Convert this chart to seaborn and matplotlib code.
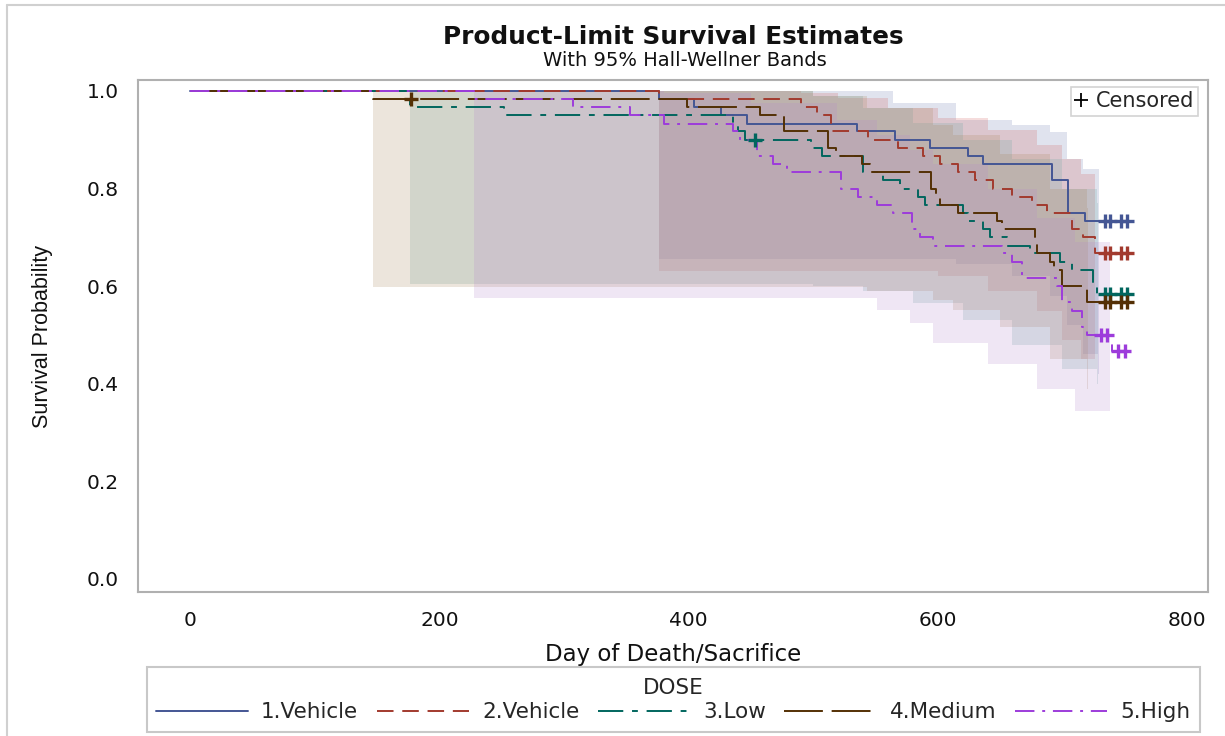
import matplotlib
matplotlib.use("Agg")
import matplotlib.pyplot as plt
import seaborn as sns
import pandas as pd
import numpy as np
from matplotlib.lines import Line2D
from matplotlib.patches import Rectangle

# ---------------- data ----------------
doses = ["1.Vehicle", "2.Vehicle", "3.Low", "4.Medium", "5.High"]

# Kaplan-Meier step curves: event day and survival after the step
veh1_t = [0, 376, 404, 426, 447, 535, 566, 594, 624, 636, 692, 705, 718]
veh1_s = [1.0, .983, .967, .950, .933, .917, .900, .883, .867, .850, .817, .750, .733]
veh2_t = [0, 376, 490, 503, 514, 544, 568, 588, 602, 616, 630, 644, 660, 676, 688, 708, 717, 726]
veh2_s = [1.0, .983, .967, .950, .917, .900, .883, .867, .850, .833, .817, .800, .783, .767, .750, .717, .700, .667]
low_t = [0, 176, 252, 436, 440, 445, 498, 507, 540, 556, 570, 584, 590, 620, 624, 636, 642, 656, 674, 698, 708, 725, 728]
low_s = [1.0, .967, .950, .933, .917, .900, .883, .867, .833, .817, .800, .783, .767, .750, .733, .717, .700, .683, .667, .650, .633, .600, .583]
med_t = [0, 147, 399, 457, 477, 512, 518, 539, 546, 595, 599, 602, 616, 648, 652, 678, 680, 690, 693, 700, 720]
med_s = [1.0, .983, .967, .950, .917, .883, .867, .850, .833, .800, .783, .767, .750, .733, .717, .700, .667, .650, .633, .600, .567]
high_t = [0, 228, 307, 353, 380, 436, 441, 455, 468, 479, 522, 536, 551, 564, 579, 586, 596, 652, 660, 668, 696, 700, 708, 716, 720, 740]
high_s = [1.0, .983, .967, .950, .933, .917, .900, .867, .850, .833, .800, .783, .767, .750, .717, .700, .683, .667, .650, .617, .600, .567, .550, .517, .500, .467]
last_day = [756, 756, 756, 756, 753]

# censored observations (day)
cens_veh1 = [734, 738, 747, 752]
cens_veh2 = [734, 738, 747, 752]
cens_low = [453, 734, 738, 747, 752]
cens_med = [177, 734, 738, 747, 752]
cens_high = [731, 736, 745, 750]

# Hall-Wellner 95% bands (step functions)
band_veh1_t = [376, 520, 564, 615, 660, 690, 704, 717, 729]
band_veh1_lo = [.656, .656, .656, .645, .62, .58, .52, .46, .42]
band_veh1_hi = [1.0, 1.0, .975, .94, .93, .916, .86, .84, .84]
band_veh2_t = [376, 490, 520, 560, 600, 640, 680, 700, 715, 726]
band_veh2_lo = [.63, .63, .63, .63, .62, .59, .55, .49, .45, .42]
band_veh2_hi = [1.0, .995, .985, .965, .945, .92, .89, .86, .83, .81]
band_low_t = [176, 440, 500, 540, 580, 620, 660, 700, 728]
band_low_lo = [.605, .605, .60, .59, .565, .53, .48, .43, .40]
band_low_hi = [1.0, 1.0, .99, .965, .935, .90, .86, .80, .77]
band_med_t = [147, 400, 500, 543, 596, 612, 650, 690, 720]
band_med_lo = [.599, .599, .599, .59, .572, .551, .516, .45, .39]
band_med_hi = [1.0, 1.0, .99, .965, .93, .91, .87, .80, .76]
band_high_t = [228, 380, 450, 519, 551, 578, 596, 640, 680, 710, 738]
band_high_lo = [.576, .576, .576, .576, .551, .524, .483, .44, .39, .345, .325]
band_high_hi = [1.0, .995, .975, .94, .91, .88, .85, .80, .74, .69, .64]

x_ticks = [0, 200, 400, 600, 800]
y_ticks = [0.0, 0.2, 0.4, 0.6, 0.8, 1.0]

# ---------------- styling ----------------
line_colors = ["#445694", "#A23A2E", "#01665E", "#543005", "#9D3CDB"]
fill_colors = ["#6F7EB3", "#D05B5B", "#66A5A0", "#A9865B", "#B689CD"]
dash_styles = {
    "1.Vehicle": "",
    "2.Vehicle": (8.5, 4.5),
    "3.Low": (13, 4.5, 3, 4.5),
    "4.Medium": (20, 4.5),
    "5.High": (10, 4, 1.5, 4),
}

sns.set_theme(style="white")
plt.rcParams["font.family"] = ["DejaVu Sans"]
TXT = "#111111"

curves_t = [veh1_t, veh2_t, low_t, med_t, high_t]
curves_s = [veh1_s, veh2_s, low_s, med_s, high_s]
cens = [cens_veh1, cens_veh2, cens_low, cens_med, cens_high]
bands = [
    (band_veh1_t, band_veh1_lo, band_veh1_hi),
    (band_veh2_t, band_veh2_lo, band_veh2_hi),
    (band_low_t, band_low_lo, band_low_hi),
    (band_med_t, band_med_lo, band_med_hi),
    (band_high_t, band_high_lo, band_high_hi),
]

rows = []
cens_rows = []
for d, t, s, end, c in zip(doses, curves_t, curves_s, last_day, cens):
    for ti, si in zip(list(t) + [end], list(s) + [s[-1]]):
        rows.append({"dose": d, "day": ti, "surv": si})
    tt = np.asarray(t)
    ss = np.asarray(s)
    for ci in c:
        idx = np.searchsorted(tt, ci, side="right") - 1
        cens_rows.append({"dose": d, "day": ci, "surv": ss[idx]})
df = pd.DataFrame(rows)
cdf = pd.DataFrame(cens_rows)

W, H = 1225, 736
fig = plt.figure(figsize=(W / 100, H / 100), dpi=100)
ax = fig.add_axes([138 / W, 1 - 592 / H, (1208 - 138) / W, (592 - 80) / H])

# bands
for (bt, blo, bhi), fc in zip(bands, fill_colors):
    bt2 = list(bt) + [bt[-1] + 0.5]
    ax.fill_between(bt2, list(blo) + [blo[-1]], list(bhi) + [bhi[-1]],
                    step="post", color=fc, alpha=0.21, linewidth=0)

palette = dict(zip(doses, line_colors))
sns.lineplot(data=df, x="day", y="surv", hue="dose", style="dose",
             palette=palette, dashes=dash_styles, drawstyle="steps-post",
             estimator=None, sort=False, linewidth=1.4, legend=False, ax=ax)

sns.scatterplot(data=cdf, x="day", y="surv", hue="dose", palette=palette,
                marker="+", s=100, linewidth=2.4, legend=False, ax=ax, zorder=5)

ax.set_xlim(-42, 817)
ax.set_ylim(-0.027, 1.0225)
ax.set_xticks(x_ticks)
ax.set_yticks(y_ticks)
ax.set_xticklabels([str(v) for v in x_ticks])
ax.set_yticklabels([f"{v:.1f}" for v in y_ticks])
ax.tick_params(axis="both", direction="out", length=8, width=1.2,
               color="#b0b0b0", labelsize=14.5, labelcolor=TXT, pad=6)
for sp in ax.spines.values():
    sp.set_color("#b0b0b0")
    sp.set_linewidth(1.5)
ax.set_xlabel("Day of Death/Sacrifice", fontsize=16.5, labelpad=9, color=TXT)
ax.set_ylabel("Survival Probability", fontsize=15.5, labelpad=24, color=TXT,
              family=["Liberation Sans", "DejaVu Sans"])

# censored legend (inset)
cleg = ax.legend(handles=[Line2D([], [], marker="+", ls="none", color="black",
                                 markersize=10, markeredgewidth=1.3)],
                 labels=["Censored"], loc="upper right", frameon=True,
                 fancybox=False, edgecolor="#c8c8c8", fontsize=15,
                 handlelength=0.6, handletextpad=0.4, borderpad=0.2,
                 borderaxespad=0, bbox_to_anchor=(0.9907, 0.986))
cleg.get_frame().set_linewidth(1.2)

# titles
fig.text(673 / W, 1 - 37 / H, "Product-Limit Survival Estimates", ha="center",
         va="center", fontsize=17.8, fontweight="bold", color=TXT)
fig.text(685 / W, 1 - 61 / H, "With 95% Hall-Wellner Bands", ha="center",
         va="center", fontsize=14, color=TXT)

# DOSE legend at bottom
handles = []
for d, c in zip(doses, line_colors):
    h = Line2D([], [], color=c, linewidth=1.4)
    if dash_styles[d]:
        h.set_dashes(dash_styles[d])
    handles.append(h)
leg = fig.legend(handles=handles, labels=doses, title="DOSE", ncol=5,
                 loc="center", bbox_to_anchor=(673 / W, 1 - 700 / H),
                 frameon=False, fontsize=15.5, title_fontsize=15.5,
                 handlelength=4.3, handletextpad=0.6, columnspacing=0.85,
                 borderpad=0.1, labelspacing=0.2)
fig.add_artist(Rectangle((147 / W, 1 - 732 / H), (1200 - 147) / W, (732 - 667) / H,
                         transform=fig.transFigure, fill=False,
                         edgecolor="#c8c8c8", linewidth=1.5))

# outer frame of the page figure
fig.add_artist(Line2D([7 / W, 7 / W], [0, 1 - 5 / H], transform=fig.transFigure,
                      color="#d0d0d0", linewidth=1.5))
fig.add_artist(Line2D([7 / W, 1], [1 - 5 / H, 1 - 5 / H], transform=fig.transFigure,
                      color="#d0d0d0", linewidth=1.5))

fig.savefig("out.png", dpi=100)
